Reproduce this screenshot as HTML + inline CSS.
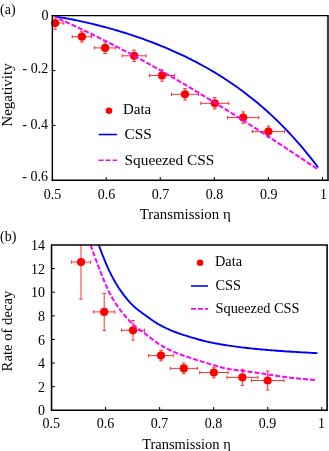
<!DOCTYPE html><html><head><meta charset="utf-8"><title>fig</title><style>
html,body{margin:0;padding:0;background:#fff;}
body{width:329px;height:451px;overflow:hidden;}
svg{display:block;font-family:"Liberation Serif",serif;font-size:14px;fill:#000;will-change:transform;}
</style></head><body>
<svg width="329" height="451" viewBox="0 0 329 451">
<rect width="329" height="451" fill="#fff"/>
<defs>
<clipPath id="ca"><rect x="52.1" y="15.65" width="276.0" height="164.75"/></clipPath>
<clipPath id="cb"><rect x="51.55" y="245.0" width="275.55" height="165.3"/></clipPath>
<clipPath id="ia"><rect x="55.5" y="16.25" width="274.80" height="163.55"/></clipPath>
<clipPath id="ib"><rect x="52.15" y="245.6" width="274.35" height="164.10"/></clipPath>
</defs>
<path clip-path="url(#ca)" stroke="#ff3030" stroke-width="1" fill="none" d="M46.5,23.0 H63.7 M46.5,21.3 v3.4 M63.7,21.3 v3.4 M55.1,16.8 V29.2 M53.3,16.8 h3.6 M53.3,29.2 h3.6"/>
<path clip-path="url(#ca)" stroke="#ff3030" stroke-width="1" fill="none" d="M72.2,36.7 H91.6 M72.2,35.0 v3.4 M91.6,35.0 v3.4 M81.9,31.3 V42.1 M80.1,31.3 h3.6 M80.1,42.1 h3.6"/>
<path clip-path="url(#ca)" stroke="#ff3030" stroke-width="1" fill="none" d="M94.6,47.9 H115.6 M94.6,46.2 v3.4 M115.6,46.2 v3.4 M105.1,42.2 V53.6 M103.3,42.2 h3.6 M103.3,53.6 h3.6"/>
<path clip-path="url(#ca)" stroke="#ff3030" stroke-width="1" fill="none" d="M122.1,55.8 H146.1 M122.1,54.1 v3.4 M146.1,54.1 v3.4 M134.1,50.1 V61.5 M132.3,50.1 h3.6 M132.3,61.5 h3.6"/>
<path clip-path="url(#ca)" stroke="#ff3030" stroke-width="1" fill="none" d="M149.4,75.5 H174.6 M149.4,73.8 v3.4 M174.6,73.8 v3.4 M162,69.8 V81.2 M160.2,69.8 h3.6 M160.2,81.2 h3.6"/>
<path clip-path="url(#ca)" stroke="#ff3030" stroke-width="1" fill="none" d="M171.5,94.3 H198.5 M171.5,92.6 v3.4 M198.5,92.6 v3.4 M185,88.6 V100.0 M183.2,88.6 h3.6 M183.2,100.0 h3.6"/>
<path clip-path="url(#ca)" stroke="#ff3030" stroke-width="1" fill="none" d="M200.8,103.3 H228.8 M200.8,101.6 v3.4 M228.8,101.6 v3.4 M214.8,97.6 V109.0 M213.0,97.6 h3.6 M213.0,109.0 h3.6"/>
<path clip-path="url(#ca)" stroke="#ff3030" stroke-width="1" fill="none" d="M227.6,117.6 H258.8 M227.6,115.9 v3.4 M258.8,115.9 v3.4 M243.2,111.9 V123.3 M241.4,111.9 h3.6 M241.4,123.3 h3.6"/>
<path clip-path="url(#ca)" stroke="#ff3030" stroke-width="1" fill="none" d="M252.2,131.6 H284.6 M252.2,129.9 v3.4 M284.6,129.9 v3.4 M268.4,126.1 V137.1 M266.6,126.1 h3.6 M266.6,137.1 h3.6"/>
<circle cx="55.1" cy="23.0" r="4.1" fill="#f00"/>
<circle cx="81.9" cy="36.7" r="4.1" fill="#f00"/>
<circle cx="105.1" cy="47.9" r="4.1" fill="#f00"/>
<circle cx="134.1" cy="55.8" r="4.1" fill="#f00"/>
<circle cx="162" cy="75.5" r="4.1" fill="#f00"/>
<circle cx="185" cy="94.3" r="4.1" fill="#f00"/>
<circle cx="214.8" cy="103.3" r="4.1" fill="#f00"/>
<circle cx="243.2" cy="117.6" r="4.1" fill="#f00"/>
<circle cx="268.4" cy="131.6" r="4.1" fill="#f00"/>
<path d="M52.30,16.00 L54.53,16.35 L56.76,16.70 L58.99,17.07 L61.22,17.45 L63.45,17.84 L65.68,18.25 L67.91,18.66 L70.14,19.08 L72.36,19.52 L74.59,19.97 L76.82,20.42 L79.05,20.89 L81.28,21.37 L83.51,21.86 L85.74,22.36 L87.97,22.87 L90.20,23.39 L92.43,23.93 L94.66,24.47 L96.89,25.02 L99.12,25.59 L101.35,26.16 L103.58,26.75 L105.81,27.34 L108.04,27.95 L110.26,28.57 L112.49,29.20 L114.72,29.84 L116.95,30.49 L119.18,31.15 L121.41,31.83 L123.64,32.51 L125.87,33.21 L128.10,33.92 L130.33,34.64 L132.56,35.37 L134.79,36.11 L137.02,36.87 L139.25,37.64 L141.48,38.42 L143.71,39.21 L145.94,40.02 L148.16,40.83 L150.39,41.67 L152.62,42.51 L154.85,43.37 L157.08,44.25 L159.31,45.13 L161.54,46.04 L163.77,46.95 L166.00,47.88 L168.23,48.83 L170.46,49.79 L172.69,50.77 L174.92,51.76 L177.15,52.77 L179.38,53.79 L181.61,54.83 L183.84,55.89 L186.06,56.97 L188.29,58.06 L190.52,59.18 L192.75,60.31 L194.98,61.45 L197.21,62.62 L199.44,63.81 L201.67,65.02 L203.90,66.24 L206.13,67.49 L208.36,68.76 L210.59,70.05 L212.82,71.36 L215.05,72.69 L217.28,74.05 L219.51,75.43 L221.74,76.83 L223.96,78.26 L226.19,79.71 L228.42,81.18 L230.65,82.69 L232.88,84.21 L235.11,85.76 L237.34,87.34 L239.57,88.95 L241.80,90.58 L244.03,92.25 L246.26,93.94 L248.49,95.66 L250.72,97.41 L252.95,99.19 L255.18,101.00 L257.41,102.84 L259.64,104.71 L261.86,106.62 L264.09,108.56 L266.32,110.54 L268.55,112.54 L270.78,114.59 L273.01,116.66 L275.24,118.78 L277.47,120.93 L279.70,123.12 L281.93,125.35 L284.16,127.61 L286.39,129.92 L288.62,132.26 L290.85,134.65 L293.08,137.08 L295.31,139.54 L297.54,142.06 L299.76,144.61 L301.99,147.21 L304.22,149.86 L306.45,152.55 L308.68,155.28 L310.91,158.07 L313.14,160.90 L315.37,163.78 L317.60,166.71" stroke="#0000ff" stroke-width="1.9" fill="none" stroke-linecap="round" clip-path="url(#ia)"/>
<path d="M52.30,16.00 L54.53,16.97 L56.77,17.94 L59.00,18.92 L61.24,19.91 L63.47,20.90 L65.71,21.91 L67.94,22.91 L70.18,23.93 L72.41,24.96 L74.64,25.99 L76.88,27.03 L79.11,28.07 L81.35,29.12 L83.58,30.18 L85.82,31.25 L88.05,32.32 L90.29,33.40 L92.52,34.49 L94.75,35.58 L96.99,36.68 L99.22,37.79 L101.46,38.90 L103.69,40.02 L105.93,41.14 L108.16,42.27 L110.40,43.41 L112.63,44.56 L114.86,45.71 L117.10,46.86 L119.33,48.03 L121.57,49.19 L123.80,50.37 L126.04,51.55 L128.27,52.74 L130.51,53.93 L132.74,55.13 L134.97,56.33 L137.21,57.54 L139.44,58.75 L141.68,59.97 L143.91,61.20 L146.15,62.43 L148.38,63.67 L150.62,64.91 L152.85,66.16 L155.08,67.41 L157.32,68.67 L159.55,69.93 L161.79,71.20 L164.02,72.47 L166.26,73.75 L168.49,75.03 L170.73,76.32 L172.96,77.62 L175.19,78.91 L177.43,80.22 L179.66,81.52 L181.90,82.83 L184.13,84.15 L186.37,85.47 L188.60,86.80 L190.84,88.13 L193.07,89.46 L195.31,90.80 L197.54,92.14 L199.77,93.49 L202.01,94.84 L204.24,96.19 L206.48,97.55 L208.71,98.92 L210.95,100.28 L213.18,101.66 L215.42,103.03 L217.65,104.41 L219.88,105.79 L222.12,107.18 L224.35,108.57 L226.59,109.96 L228.82,111.36 L231.06,112.76 L233.29,114.16 L235.53,115.57 L237.76,116.98 L239.99,118.39 L242.23,119.81 L244.46,121.23 L246.70,122.66 L248.93,124.08 L251.17,125.51 L253.40,126.94 L255.64,128.38 L257.87,129.82 L260.10,131.26 L262.34,132.70 L264.57,134.15 L266.81,135.60 L269.04,137.05 L271.28,138.51 L273.51,139.96 L275.75,141.42 L277.98,142.89 L280.21,144.35 L282.45,145.82 L284.68,147.29 L286.92,148.76 L289.15,150.23 L291.39,151.71 L293.62,153.18 L295.86,154.66 L298.09,156.14 L300.32,157.63 L302.56,159.11 L304.79,160.60 L307.03,162.09 L309.26,163.58 L311.50,165.07 L313.73,166.56 L315.97,168.06 L318.20,169.56" stroke="#ff00ff" stroke-width="2" fill="none" stroke-dasharray="5,2" clip-path="url(#ia)"/>
<path d="M106.18,180.4 v-3.4 M160.26,180.4 v-3.4 M214.34,180.4 v-3.4 M268.42,180.4 v-3.4 M322.50,180.4 v-3.4 M52.1,70.57 h3.4 M52.1,125.48 h3.4 " stroke="#000" stroke-width="1" fill="none"/>
<path d="M328.0,15.05 V181.1" stroke="#404040" stroke-width="2.2" fill="none"/>
<path d="M51.65,15.65 H328.1" stroke="#000" stroke-width="1.3" fill="none"/>
<path d="M52.35,15.0 V181.1" stroke="#000" stroke-width="1.45" fill="none"/>
<path d="M51.65,180.35 H328.1" stroke="#000" stroke-width="1.5" fill="none"/>
<path clip-path="url(#cb)" stroke="#ff3030" stroke-width="1" fill="none" d="M71.4,262.1 H90.6 M71.4,260.4 v3.4 M90.6,260.4 v3.4 M81,225.1 V299.1 M79.2,225.1 h3.6 M79.2,299.1 h3.6"/>
<path clip-path="url(#cb)" stroke="#ff3030" stroke-width="1" fill="none" d="M93.6,311.9 H114.8 M93.6,310.2 v3.4 M114.8,310.2 v3.4 M104.2,293.4 V330.4 M102.4,293.4 h3.6 M102.4,330.4 h3.6"/>
<path clip-path="url(#cb)" stroke="#ff3030" stroke-width="1" fill="none" d="M121.5,330.3 H144.5 M121.5,328.6 v3.4 M144.5,328.6 v3.4 M133,320.5 V340.1 M131.2,320.5 h3.6 M131.2,340.1 h3.6"/>
<path clip-path="url(#cb)" stroke="#ff3030" stroke-width="1" fill="none" d="M148.7,355.6 H173.3 M148.7,353.9 v3.4 M173.3,353.9 v3.4 M161,350.3 V360.9 M159.2,350.3 h3.6 M159.2,360.9 h3.6"/>
<path clip-path="url(#cb)" stroke="#ff3030" stroke-width="1" fill="none" d="M170.3,368.4 H197.3 M170.3,366.7 v3.4 M197.3,366.7 v3.4 M183.8,363.1 V373.7 M182.0,363.1 h3.6 M182.0,373.7 h3.6"/>
<path clip-path="url(#cb)" stroke="#ff3030" stroke-width="1" fill="none" d="M199.7,372.5 H228.1 M199.7,370.8 v3.4 M228.1,370.8 v3.4 M213.9,367.2 V377.8 M212.1,367.2 h3.6 M212.1,377.8 h3.6"/>
<path clip-path="url(#cb)" stroke="#ff3030" stroke-width="1" fill="none" d="M226.9,377.4 H257.9 M226.9,375.7 v3.4 M257.9,375.7 v3.4 M242.4,369.4 V385.4 M240.6,369.4 h3.6 M240.6,385.4 h3.6"/>
<path clip-path="url(#cb)" stroke="#ff3030" stroke-width="1" fill="none" d="M251.4,380.5 H284.0 M251.4,378.8 v3.4 M284.0,378.8 v3.4 M267.7,371.0 V390.0 M265.9,371.0 h3.6 M265.9,390.0 h3.6"/>
<circle cx="81" cy="262.1" r="4.1" fill="#f00"/>
<circle cx="104.2" cy="311.9" r="4.1" fill="#f00"/>
<circle cx="133" cy="330.3" r="4.1" fill="#f00"/>
<circle cx="161" cy="355.6" r="4.1" fill="#f00"/>
<circle cx="183.8" cy="368.4" r="4.1" fill="#f00"/>
<circle cx="213.9" cy="372.5" r="4.1" fill="#f00"/>
<circle cx="242.4" cy="377.4" r="4.1" fill="#f00"/>
<circle cx="267.7" cy="380.5" r="4.1" fill="#f00"/>
<path d="M98.80,244.90 L100.63,249.97 L102.46,254.82 L104.29,259.45 L106.12,263.85 L107.96,268.02 L109.79,271.95 L111.62,275.63 L113.45,279.08 L115.28,282.32 L117.11,285.35 L118.94,288.19 L120.77,290.84 L122.60,293.38 L124.44,295.82 L126.27,298.16 L128.10,300.37 L129.93,302.45 L131.76,304.38 L133.59,306.16 L135.42,307.79 L137.25,309.31 L139.08,310.74 L140.92,312.11 L142.75,313.44 L144.58,314.75 L146.41,316.07 L148.24,317.39 L150.07,318.70 L151.90,319.98 L153.73,321.23 L155.56,322.43 L157.39,323.57 L159.23,324.65 L161.06,325.65 L162.89,326.60 L164.72,327.51 L166.55,328.39 L168.38,329.22 L170.21,330.02 L172.04,330.79 L173.87,331.53 L175.71,332.24 L177.54,332.92 L179.37,333.57 L181.20,334.20 L183.03,334.80 L184.86,335.38 L186.69,335.95 L188.52,336.51 L190.35,337.07 L192.19,337.62 L194.02,338.17 L195.85,338.71 L197.68,339.24 L199.51,339.76 L201.34,340.25 L203.17,340.73 L205.00,341.17 L206.83,341.59 L208.67,341.98 L210.50,342.37 L212.33,342.75 L214.16,343.11 L215.99,343.46 L217.82,343.80 L219.65,344.13 L221.48,344.45 L223.31,344.76 L225.15,345.06 L226.98,345.35 L228.81,345.62 L230.64,345.89 L232.47,346.15 L234.30,346.41 L236.13,346.66 L237.96,346.90 L239.79,347.13 L241.63,347.36 L243.46,347.58 L245.29,347.80 L247.12,348.01 L248.95,348.21 L250.78,348.41 L252.61,348.60 L254.44,348.79 L256.27,348.97 L258.11,349.14 L259.94,349.31 L261.77,349.48 L263.60,349.64 L265.43,349.80 L267.26,349.96 L269.09,350.11 L270.92,350.25 L272.75,350.40 L274.58,350.54 L276.42,350.68 L278.25,350.81 L280.08,350.94 L281.91,351.07 L283.74,351.20 L285.57,351.33 L287.40,351.45 L289.23,351.57 L291.06,351.69 L292.90,351.80 L294.73,351.92 L296.56,352.03 L298.39,352.14 L300.22,352.24 L302.05,352.35 L303.88,352.45 L305.71,352.55 L307.54,352.65 L309.38,352.75 L311.21,352.84 L313.04,352.93 L314.87,353.02 L316.70,353.10" stroke="#0000ff" stroke-width="1.9" fill="none" stroke-linecap="round" clip-path="url(#ib)"/>
<path d="M90.60,244.90 L92.49,250.32 L94.37,255.61 L96.26,260.75 L98.15,265.72 L100.03,270.55 L101.92,275.38 L103.81,280.11 L105.69,284.64 L107.58,288.89 L109.47,292.75 L111.35,296.24 L113.24,299.50 L115.13,302.55 L117.01,305.42 L118.90,308.11 L120.78,310.64 L122.67,313.06 L124.56,315.37 L126.44,317.59 L128.33,319.69 L130.22,321.68 L132.10,323.56 L133.99,325.32 L135.88,326.95 L137.76,328.43 L139.65,329.83 L141.54,331.17 L143.42,332.51 L145.31,333.88 L147.20,335.32 L149.08,336.78 L150.97,338.26 L152.86,339.73 L154.74,341.16 L156.63,342.53 L158.52,343.82 L160.40,345.00 L162.29,346.10 L164.18,347.15 L166.06,348.15 L167.95,349.11 L169.84,350.03 L171.72,350.90 L173.61,351.75 L175.49,352.56 L177.38,353.33 L179.27,354.07 L181.15,354.78 L183.04,355.46 L184.93,356.12 L186.81,356.76 L188.70,357.40 L190.59,358.03 L192.47,358.65 L194.36,359.26 L196.25,359.86 L198.13,360.44 L200.02,361.02 L201.91,361.59 L203.79,362.15 L205.68,362.71 L207.57,363.27 L209.45,363.84 L211.34,364.42 L213.23,365.00 L215.11,365.57 L217.00,366.14 L218.89,366.68 L220.77,367.20 L222.66,367.68 L224.55,368.13 L226.43,368.53 L228.32,368.89 L230.21,369.21 L232.09,369.52 L233.98,369.80 L235.86,370.07 L237.75,370.33 L239.64,370.57 L241.52,370.81 L243.41,371.04 L245.30,371.27 L247.18,371.49 L249.07,371.72 L250.96,371.95 L252.84,372.19 L254.73,372.44 L256.62,372.70 L258.50,372.98 L260.39,373.26 L262.28,373.55 L264.16,373.84 L266.05,374.14 L267.94,374.44 L269.82,374.74 L271.71,375.04 L273.60,375.34 L275.48,375.64 L277.37,375.92 L279.26,376.21 L281.14,376.48 L283.03,376.74 L284.92,376.99 L286.80,377.23 L288.69,377.46 L290.57,377.67 L292.46,377.89 L294.35,378.09 L296.23,378.30 L298.12,378.49 L300.01,378.68 L301.89,378.87 L303.78,379.05 L305.67,379.23 L307.55,379.39 L309.44,379.56 L311.33,379.71 L313.21,379.86 L315.10,380.00" stroke="#ff00ff" stroke-width="2" fill="none" stroke-dasharray="5,2" clip-path="url(#ib)"/>
<path d="M105.60,410.3 v-3.4 M159.65,410.3 v-3.4 M213.70,410.3 v-3.4 M267.75,410.3 v-3.4 M321.80,410.3 v-3.4 M51.55,386.69 h3.4 M51.55,363.07 h3.4 M51.55,339.46 h3.4 M51.55,315.84 h3.4 M51.55,292.23 h3.4 M51.55,268.61 h3.4 " stroke="#000" stroke-width="1" fill="none"/>
<path d="M51.55,245.0 H327.1 V410.3 H51.55 Z" stroke="#000" stroke-width="1.55" fill="none" stroke-linejoin="miter"/>
<circle cx="109" cy="110.7" r="3.3" fill="#f00"/>
<path d="M98.6,134.5 H117" stroke="#00f" stroke-width="1.6"/>
<path d="M98.6,160.3 H117" stroke="#f0f" stroke-width="1.6" stroke-dasharray="5,2"/>
<circle cx="200.1" cy="262.7" r="3.3" fill="#f00"/>
<path d="M191,286 H208" stroke="#00f" stroke-width="1.6"/>
<path d="M191,308.9 H208.2" stroke="#f0f" stroke-width="1.6" stroke-dasharray="5,2"/>
<g style="filter:grayscale(1)">
<text x="0" y="14" text-anchor="start" >(a)</text>
<text x="0" y="241" text-anchor="start" >(b)</text>
<text x="48.5" y="19.7" text-anchor="end" >0</text>
<text x="48.2" y="73" text-anchor="end" >- 0.2</text>
<text x="48" y="129" text-anchor="end" >- 0.4</text>
<text x="48" y="180.6" text-anchor="end" >- 0.6</text>
<text x="52.4" y="198.8" text-anchor="middle" >0.5</text>
<text x="51.3" y="428.3" text-anchor="middle" >0.5</text>
<text x="106.5" y="198.8" text-anchor="middle" >0.6</text>
<text x="105.4" y="428.3" text-anchor="middle" >0.6</text>
<text x="160.6" y="198.8" text-anchor="middle" >0.7</text>
<text x="159.4" y="428.3" text-anchor="middle" >0.7</text>
<text x="214.6" y="198.8" text-anchor="middle" >0.8</text>
<text x="213.5" y="428.3" text-anchor="middle" >0.8</text>
<text x="268.7" y="198.8" text-anchor="middle" >0.9</text>
<text x="267.6" y="428.3" text-anchor="middle" >0.9</text>
<text x="323.5" y="198.8" text-anchor="middle" >1</text>
<text x="321.6" y="428.3" text-anchor="middle" >1</text>
<text x="230.7" y="219" text-anchor="end" font-size="14.85">Transmission η</text>
<text x="230.7" y="449" text-anchor="end" font-size="14.45">Transmission η</text>
<text x="45.1" y="415.3" text-anchor="end" >0</text>
<text x="45.1" y="391.7" text-anchor="end" >2</text>
<text x="45.1" y="368.1" text-anchor="end" >4</text>
<text x="45.1" y="344.5" text-anchor="end" >6</text>
<text x="45.1" y="320.8" text-anchor="end" >8</text>
<text x="45.1" y="297.2" text-anchor="end" >10</text>
<text x="45.1" y="273.6" text-anchor="end" >12</text>
<text x="45.1" y="250.0" text-anchor="end" >14</text>
<text transform="translate(11.5,95) rotate(-90)" text-anchor="middle" font-size="15">Negativity</text>
<text transform="translate(11.6,331) rotate(-90)" text-anchor="middle" font-size="14.7">Rate of decay</text>
<text x="122.9" y="114.1" text-anchor="start" font-size="15">Data</text>
<text x="124.6" y="138.6" text-anchor="start" font-size="15.3">CSS</text>
<text x="124.6" y="164.8" text-anchor="start" font-size="15.3">Squeezed CSS</text>
<text x="215" y="265.8" text-anchor="start" font-size="14.35">Data</text>
<text x="215.4" y="289.8" text-anchor="start" font-size="14.35">CSS</text>
<text x="215.5" y="313" text-anchor="start" font-size="14.35">Squeezed CSS</text>
</g>
</svg></body></html>
